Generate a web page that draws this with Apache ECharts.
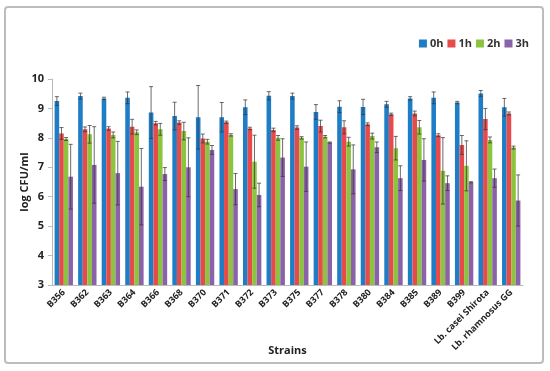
<!DOCTYPE html>
<html><head><meta charset="utf-8">
<script src="https://cdn.jsdelivr.net/npm/echarts@6/dist/echarts.min.js"></script>
<style>html,body{margin:0;padding:0;background:#fff}#c{width:550px;height:371px}</style>
</head><body><div id="c"></div>
<script>
var categories = ['B356','B362','B363','B364','B366','B368','B370','B371','B372','B373','B375','B377','B378','B380','B384','B385','B389','B399','Lb. casei Shirota','Lb. rhamnosus GG'];
var seriesNames = ['0h','1h','2h','3h'];
var h0  = [9.25,9.42,9.34,9.36,8.86,8.74,8.70,8.70,9.04,9.43,9.42,8.88,9.06,9.05,9.14,9.34,9.36,9.20,9.51,9.04];
var h0e = [0.15,0.10,0.04,0.20,0.88,0.47,1.08,0.50,0.25,0.14,0.10,0.25,0.20,0.26,0.10,0.06,0.20,0.04,0.10,0.30];
var h1  = [8.15,8.29,8.32,8.38,8.50,8.52,7.98,8.53,8.32,8.27,8.35,8.40,8.36,8.46,8.80,8.83,8.09,7.76,8.64,8.83];
var h1e = [0.20,0.08,0.06,0.25,0.06,0.06,0.15,0.04,0.04,0.06,0.06,0.20,0.22,0.05,0.04,0.08,0.05,0.32,0.36,0.05];
var h2  = [7.96,8.12,8.10,8.19,8.29,8.23,7.87,8.10,7.19,8.00,8.00,8.04,7.87,8.06,7.65,8.36,6.88,7.05,7.93,7.67];
var h2e = [0.05,0.30,0.10,0.08,0.20,0.30,0.08,0.04,0.90,0.08,0.04,0.04,0.15,0.10,0.40,0.23,1.13,0.85,0.10,0.05];
var h3  = [6.68,7.08,6.80,6.34,6.77,7.00,7.59,6.26,6.06,7.33,7.02,7.84,6.93,7.68,6.63,7.25,6.46,6.49,6.63,5.87];
var h3e = [1.10,1.30,1.08,1.30,0.22,1.00,0.15,0.53,0.40,0.64,0.84,0.02,0.83,0.18,0.42,0.72,0.25,0.02,0.31,0.87];
var yTicks = [3,4,5,6,7,8,9,10];

var vals = [h0,h1,h2,h3];
var errs = [h0e,h1e,h2e,h3e];
var colors = ['#1f7dc6','#e64a4b','#8cc43f','#8b62aa'];
var gapFrac = 0.22;

var chart = echarts.init(document.getElementById('c'), null, {renderer:'canvas'});
var series = [];
seriesNames.forEach(function(n,i){
  series.push({name:n,type:'bar',data:vals[i],barGap:'0%',barCategoryGap:(gapFrac*100)+'%',
    itemStyle:{color:colors[i]},z:2});
});
seriesNames.forEach(function(n,i){
  var d = vals[i].map(function(v,k){return [k, v-errs[i][k], v+errs[i][k]];});
  series.push({type:'custom',name:n+'err',data:d,z:5,silent:true,
    encode:{x:0,y:[1,2]},
    renderItem:function(params,api){
      var k=api.value(0), lo=api.value(1), hi=api.value(2);
      var band=api.size([1,0])[0];
      var tot=band*(1-gapFrac), bw=tot/4;
      var p1=api.coord([k,lo]), p2=api.coord([k,hi]);
      var x=p1[0]-tot/2+bw*(i+0.5);
      var cap=2;
      var st={stroke:'#3a3a3a',lineWidth:1,opacity:0.75};
      return {type:'group',children:[
        {type:'line',shape:{x1:x,y1:p1[1],x2:x,y2:p2[1]},style:st},
        {type:'line',shape:{x1:x-cap,y1:p1[1],x2:x+cap,y2:p1[1]},style:st},
        {type:'line',shape:{x1:x-cap,y1:p2[1],x2:x+cap,y2:p2[1]},style:st}
      ]};
    }});
});

chart.setOption({
  animation:false,
  backgroundColor:'#fff',
  textStyle:{fontFamily:'Open Sans'},
  graphic:[{type:'rect',shape:{x:5,y:7,width:538,height:356,r:3},style:{fill:'none',stroke:'#bdbdbd',lineWidth:2},z:-1}],
  legend:{data:seriesNames,right:16,top:33,itemWidth:8,itemHeight:8,itemGap:4,icon:'rect',
    textStyle:{fontSize:11,fontWeight:'bold',color:'#333',fontFamily:'Open Sans',padding:[0,0,0,-2]}},
  grid:{left:52,right:27,top:79,bottom:86},
  xAxis:{type:'category',data:categories,
    name:'Strains',nameLocation:'middle',nameGap:60,nameMoveOverlap:false,
    nameTextStyle:{fontSize:11,fontWeight:'bold',color:'#222'},
    axisLine:{lineStyle:{color:'#bbb'}},axisTick:{lineStyle:{color:'#bbb'},length:4},
    axisLabel:{rotate:45,interval:0,fontSize:9,fontWeight:'bold',color:'#222',margin:6}},
  yAxis:{type:'value',min:3,max:10,interval:1,
    name:'log CFU/ml',nameLocation:'middle',nameGap:22,nameMoveOverlap:false,
    nameTextStyle:{fontSize:11,fontWeight:'bold',color:'#222'},
    axisLine:{show:true,lineStyle:{color:'#bbb'}},axisTick:{show:true,lineStyle:{color:'#bbb'},length:4},
    splitLine:{show:false},
    axisLabel:{fontSize:11,fontWeight:'bold',color:'#222',margin:8,
      formatter:function(v){return yTicks.indexOf(v)>=0?String(v):'';}}},
  series:series
});
</script></body></html>
